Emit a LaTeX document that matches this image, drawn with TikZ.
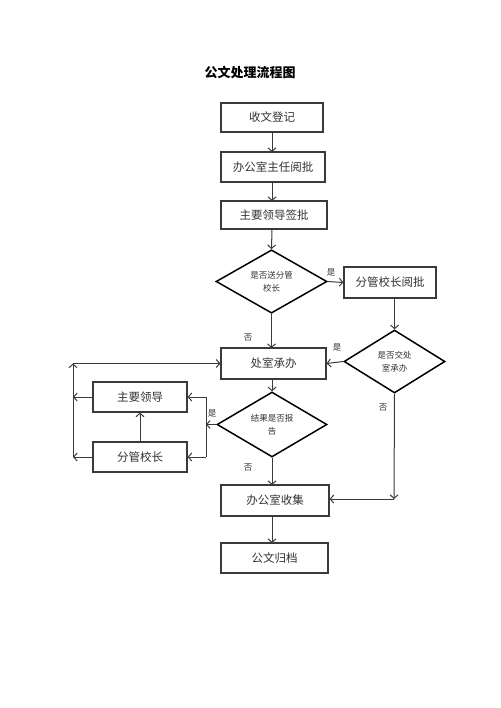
\documentclass[tikz,border=0pt]{standalone}
\usepackage{fontspec}
\setmainfont{Noto Sans CJK SC}
\usetikzlibrary{shapes.geometric,arrows.meta}
\definecolor{ln}{HTML}{3A3A3A}
\definecolor{tx}{HTML}{333333}
\tikzset{
  box/.style={draw=ln, line width=1.2pt, rectangle, minimum height=30pt, inner sep=0pt, text=tx, font=\fontsize{11.5}{13}\selectfont},
  dia/.style={draw=black, line width=1.5pt, diamond, inner sep=0pt, align=center, text=tx, font=\fontsize{8.5}{13}\selectfont},
  arr/.style={draw=ln, line width=1pt, -{Straight Barb[length=3.5pt,width=8pt]}},
  ln/.style={draw=ln, line width=1pt},
  lab/.style={text=tx, font=\fontsize{8.5}{10}\selectfont, inner sep=0pt}
}
\begin{document}
\begin{tikzpicture}[x=1pt,y=-1pt]
\useasboundingbox[fill=white] (0,0) rectangle (500,708);
\node[text=black, font=\fontsize{13}{15}\selectfont\bfseries] (title) at (250,73) {公文处理流程图};
\node[box, minimum width=102pt, minimum height=29pt] (b1) at (272,117.5) {收文登记};
\node[box, minimum width=104pt] (b2) at (273,167) {办公室主任阅批};
\node[box, minimum width=106pt, minimum height=28pt] (b3) at (274,215) {主要领导签批};
\node[dia, minimum width=111pt, minimum height=63pt] (d1) at (271.5,281.5) {是否送分管\\校长};
\node[box, minimum width=92pt, minimum height=31pt] (b4) at (390,282.5) {分管校长阅批};
\node[dia, minimum width=101pt, minimum height=63pt] (d2) at (394.5,361.5) {是否交处\\室承办};
\node[box, minimum width=105pt, minimum height=31pt] (b5) at (273.5,363.5) {处室承办};
\node[dia, minimum width=110pt, minimum height=65pt] (d3) at (272,424.5) {结果是否报\\告};
\node[box, minimum width=94pt] (b6) at (140,397) {主要领导};
\node[box, minimum width=94pt] (b7) at (140,457) {分管校长};
\node[box, minimum width=108pt, minimum height=31pt] (b8) at (275,500.5) {办公室收集};
\node[box, minimum width=107pt] (b9) at (274.5,558) {公文归档};
\coordinate (r1) at (206,424.5);
\coordinate (r6) at (206,397);
\coordinate (r7) at (206,457);
\coordinate (l6) at (73,397);
\coordinate (l7) at (73,457);
\coordinate (lt) at (73,363.5);
\coordinate (dd) at (394,499);
% main chain
\draw[arr] (272,132) -- (272,152);
\draw[arr] (272,182) -- (272,201);
\draw[arr] (272,229) -- (d1.north);
\draw[arr] (d1.east) -- (b4.west);
\node[lab] (l1) at (331,272) {是};
\draw[arr] (d1.south) -- (271.5,348);
\node[lab] (l2) at (248,338) {否};
\draw[arr] (d2.north |- b4.south) -- (d2.north);
\draw[arr] (d2.west) -- (b5.east);
\node[lab] (l3) at (337,347) {是};
\draw[arr] (d2.south) -- (dd);
\draw[arr] (dd) -- (b8.east |- dd);
\node[lab] (l4) at (383,408) {否};
\draw[arr] (272,379) -- (d3.north);
\draw[arr] (d3.south) -- (272,485);
\node[lab] (l5) at (248,468) {否};
\draw[arr] (272,516) -- (272,543);
% left loop
\draw[arr] (d3.west) -- (r1);
\node[lab] (l6t) at (212,413) {是};
\draw[ln] (r6) -- (r7);
\draw[arr] (r6) -- (b6.east);
\draw[arr] (r7) -- (b7.east);
\draw[arr] (b7.north) -- (b6.south);
\draw[arr] (b6.west) -- (l6);
\draw[arr] (b7.west) -- (l7);
\draw[arr] (l7) -- (lt);
\draw[arr] (lt) -- (b5.west);
\end{tikzpicture}
\end{document}
